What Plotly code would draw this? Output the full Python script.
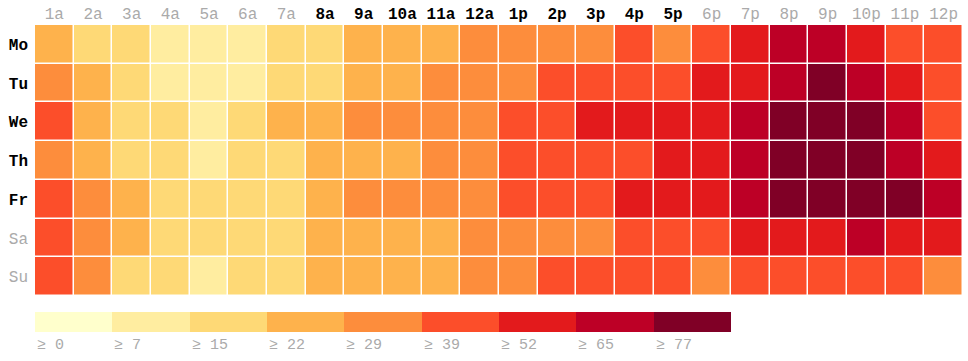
import plotly.graph_objects as go

days = ["Mo", "Tu", "We", "Th", "Fr", "Sa", "Su"]
hours = ["1a", "2a", "3a", "4a", "5a", "6a", "7a", "8a", "9a", "10a", "11a", "12a",
         "1p", "2p", "3p", "4p", "5p", "6p", "7p", "8p", "9p", "10p", "11p", "12p"]
work_days = ["Mo", "Tu", "We", "Th", "Fr"]
work_hours = ["8a", "9a", "10a", "11a", "12a", "1p", "2p", "3p", "4p", "5p"]

mo = [24, 18, 16, 10, 9, 11, 17, 19, 25, 26, 27, 33, 34, 32, 35, 44, 33, 45, 56, 68, 70, 58, 47, 43]
tu = [31, 24, 17, 11, 9, 12, 18, 20, 26, 27, 32, 34, 33, 41, 43, 45, 42, 55, 57, 69, 80, 70, 59, 46]
we = [42, 23, 17, 16, 12, 17, 24, 25, 31, 32, 33, 34, 44, 46, 55, 57, 56, 58, 71, 84, 86, 82, 69, 45]
th = [32, 24, 18, 16, 11, 17, 19, 24, 26, 27, 33, 34, 43, 44, 46, 47, 56, 58, 70, 82, 85, 81, 68, 56]
fr = [44, 31, 24, 18, 17, 18, 19, 25, 32, 33, 34, 35, 46, 47, 48, 57, 58, 59, 72, 83, 87, 84, 80, 68]
sa = [43, 32, 24, 18, 17, 18, 19, 25, 27, 26, 26, 33, 35, 34, 33, 44, 45, 43, 57, 58, 59, 70, 58, 55]
su = [42, 31, 18, 16, 12, 17, 18, 24, 26, 27, 26, 34, 36, 44, 45, 46, 45, 34, 44, 45, 47, 46, 45, 35]

thresholds = [0, 7, 15, 22, 29, 39, 52, 65, 77]
colors = ["#ffffcc", "#ffeda0", "#fed976", "#feb24c", "#fd8d3c",
          "#fc4e2a", "#e31a1c", "#bd0026", "#800026"]

rows = [mo, tu, we, th, fr, sa, su]


def bucket(v):
    return max(i for i, t in enumerate(thresholds) if v >= t)


z = [[bucket(v) for v in r] for r in rows]
n = len(colors)
cscale = []
for i, c in enumerate(colors):
    cscale.append([i / n, c])
    cscale.append([(i + 1) / n, c])

W, H = 968, 361
FONT = "Liberation Mono, Courier New, monospace"

fig = go.Figure()
fig.add_trace(go.Heatmap(
    z=z, x=hours, y=days, colorscale=cscale, zmin=-0.5, zmax=n - 0.5,
    showscale=False, xgap=1.5, ygap=1.5, customdata=rows,
    hovertemplate="%{y} %{x}: %{customdata}<extra></extra>",
    xaxis="x", yaxis="y"))

fig.add_trace(go.Heatmap(
    z=[list(range(n))], x=list(range(n)), y=[0], colorscale=cscale,
    zmin=-0.5, zmax=n - 0.5, showscale=False, hoverinfo="skip",
    xaxis="x2", yaxis="y2"))

xt = [f"<b>{h}</b>" if h in work_hours else f"<span style='color:#aaa'>{h}</span>" for h in hours]
yt = [f"<b>{d}</b>" if d in work_days else f"<span style='color:#aaa'>{d}</span>" for d in days]

annotations = []
for i, t in enumerate(thresholds):
    annotations.append(dict(
        x=i - 0.5, y=1 - 345 / H, xref="x2", yref="paper", text=f"≥ {t}",
        showarrow=False, xanchor="left", yanchor="middle",
        font=dict(family=FONT, size=15, color="#aaa")))

fig.update_layout(
    width=W, height=H, margin=dict(l=0, r=0, t=0, b=0),
    paper_bgcolor="white", plot_bgcolor="white",
    xaxis=dict(domain=[35 / W, 963 / W], side="top", tickvals=hours, ticktext=xt,
               showgrid=False, zeroline=False, ticks="", automargin=False,
               tickfont=dict(family=FONT, size=16, color="#000"), anchor="y",
               ticklabelstandoff=2),
    yaxis=dict(domain=[1 - 296 / H, 1 - 25 / H], autorange="reversed", tickvals=days,
               ticktext=yt, showgrid=False, zeroline=False, ticks="", automargin=False,
               tickfont=dict(family=FONT, size=16, color="#000"), anchor="x",
               ticklabelstandoff=6),
    xaxis2=dict(domain=[35 / W, 731 / W], visible=False, anchor="y2",
                range=[-0.5, n - 0.5]),
    yaxis2=dict(domain=[1 - 332 / H, 1 - 312 / H], visible=False, anchor="x2"),
    annotations=annotations,
)

fig.write_html("out.html", config={"displayModeBar": False},
               post_script="document.body.style.margin='0';document.body.style.overflow='hidden';")
